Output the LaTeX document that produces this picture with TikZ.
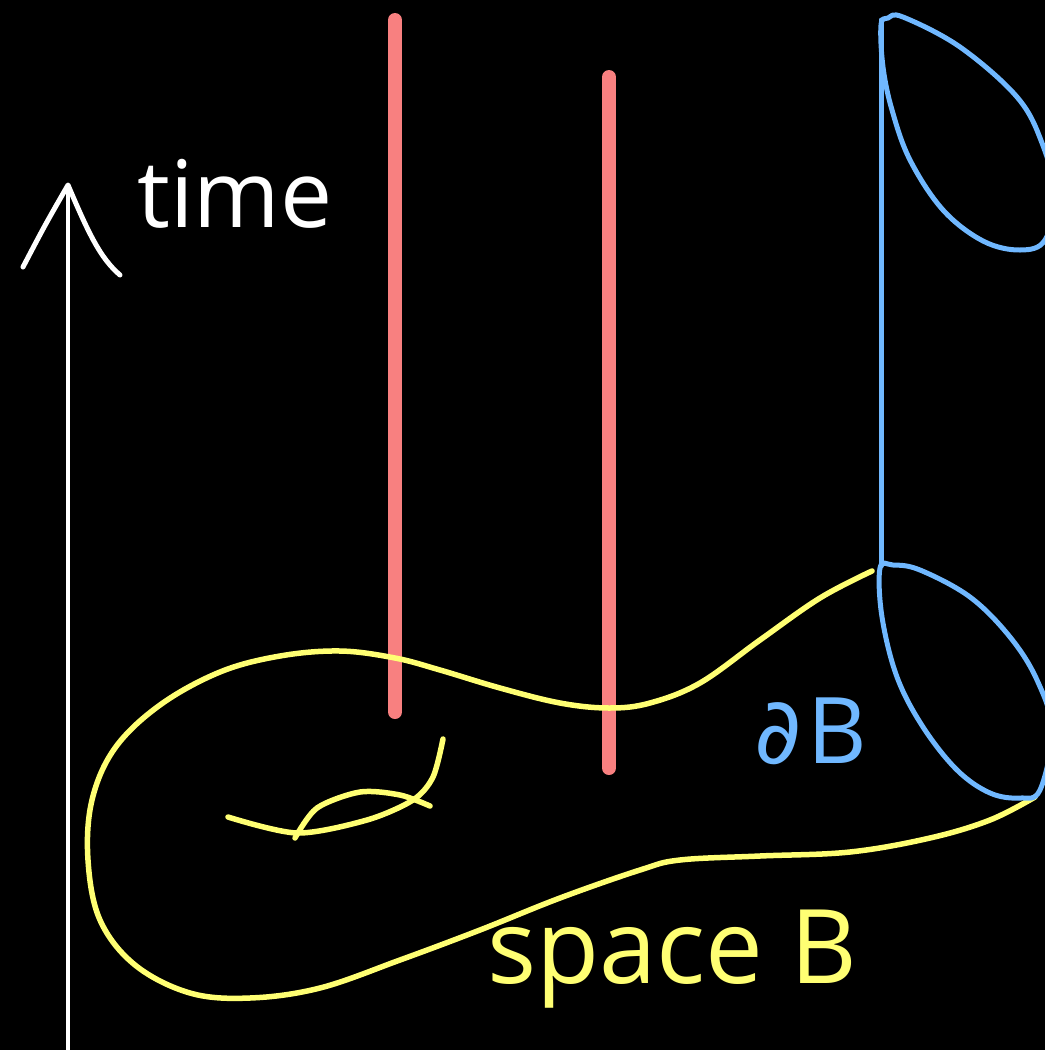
\documentclass[tikz,border=0pt]{standalone}
\definecolor{boardBlack}{RGB}{0,0,0}
\definecolor{chalkWhite}{RGB}{255,255,255}
\definecolor{worldRed}{RGB}{248,128,128}
\definecolor{spaceYellow}{RGB}{255,255,115}
\definecolor{edgeBlue}{RGB}{112,184,255}
\usepackage{fontspec}
\setmainfont{Open Sans}
\newfontfamily\symfont{DejaVu Sans}
\usepackage{tikz}
\usetikzlibrary{calc}

\begin{document}
\begin{tikzpicture}[x=1pt,y=-1pt,
    stroke/.style={line cap=round,line join=round},
    worldline/.style={stroke,worldRed,line width=14pt},
    surface/.style={stroke,spaceYellow,line width=5.5pt},
    boundary/.style={stroke,edgeBlue,line width=5pt},
    hand/.style={inner sep=0pt,anchor=base west}]
        % Board
        \fill[boardBlack] (0,0) rectangle (1045,1050);
        \useasboundingbox (0,0) rectangle (1045,1050);
        \begin{scope}
        \clip (0,0) rectangle (1045,1050);
        % Time axis
        \draw[stroke,chalkWhite,line width=4pt] (68,1050) -- (68,185);
        \draw[stroke,chalkWhite,line width=5pt] (23,267) .. controls (45,225) .. (68,185)
          .. controls (88,232) and (100,258) .. (120,275);
        \node[hand,text=chalkWhite,font=\fontsize{93}{100}\selectfont] (timelabel)
          at (137,227) {time};
        % World lines of two particles
        \draw[worldline] (395,20) -- (395,712);
        \draw[worldline] (609,77) -- (609,768);
        % Space B with a handle
        \draw[surface] plot[smooth,tension=0.6] coordinates {(872,571) (820,598) (760,640)
          (700,683) (650,703) (609,708) (560,703) (500,688) (440,670) (395,658) (340,651)
          (280,656) (220,672) (160,705) (115,748) (92,800) (88,860) (100,920) (135,965)
          (190,993) (250,998) (320,988) (400,960) (480,930) (560,898) (640,870) (680,860)
          (760,856) (850,852) (930,838) (990,820) (1035,797)};
        \draw[surface] plot[smooth] coordinates {(228,817) (297,833) (367,820) (413,800)
          (433,777) (443,739)};
        \draw[surface] plot[smooth] coordinates {(295,838) (317,808) (360,792) (400,795)
          (430,806)};
        \node[hand,text=spaceYellow,font=\fontsize{103}{110}\selectfont] (spacelabel)
          at (487,983) {space B};
        % Boundary of B moving in time
        \draw[boundary] (881,20) -- (881,566);
        \draw[boundary] plot[smooth cycle,tension=0.6] coordinates {(881,25) (888,18)
          (903,17) (960,47) (1017,97) (1042,143) (1055,195) (1045,240) (1020,250)
          (983,241) (943,210) (910,160) (892,110) (883,67)};
        \draw[boundary] plot[smooth cycle,tension=0.6] coordinates {(880,568) (893,565)
          (920,570) (970,597) (1010,637) (1037,680) (1052,730) (1040,790) (1020,798)
          (990,793) (957,770) (923,727) (897,677) (882,617)};
        \node[hand,text=edgeBlue,font=\fontsize{92}{100}\selectfont] (edgelabel)
          at (754,763) {{\symfont ∂}\hspace{6pt}B};
        \end{scope}
      \end{tikzpicture}
\end{document}
